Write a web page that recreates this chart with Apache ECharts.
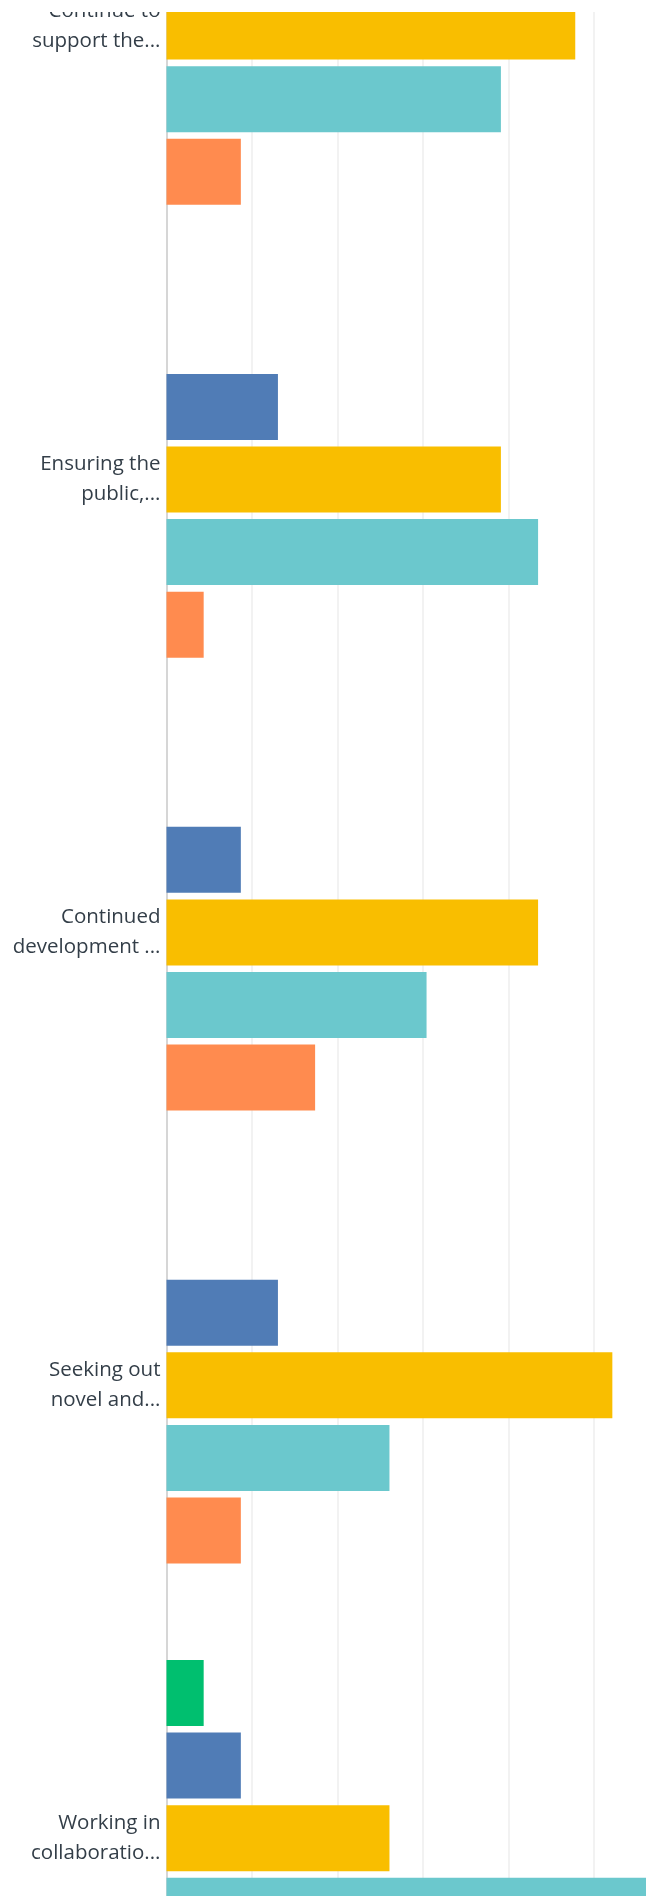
<!DOCTYPE html>
<html>
<head>
<meta charset="utf-8">
<script src="https://cdn.jsdelivr.net/npm/echarts@6/dist/echarts.min.js"></script>
<style>
  html, body { margin: 0; padding: 0; background: #ffffff; overflow: hidden; }
  #wrap { position: absolute; left: 0; top: 12px; width: 646px; height: 1884px; background: #ffffff; overflow: hidden; }
  #chart { position: absolute; left: 0; top: -260px; width: 1100px; height: 2600px; }
</style>
</head>
<body>
<div id="wrap"><div id="chart"></div></div>
<script>
// Categories (row labels as visible, truncated in the original)
var categories = [
  'Continue to\nsupport the...',
  'Ensuring the\npublic,...',
  'Continued\ndevelopment ...',
  'Seeking out\nnovel and...',
  'Working in\ncollaboratio...'
];
// Series values, percent of respondents per row
var seriesNames = ['Option 1', 'Option 2', 'Option 3', 'Option 4', 'Option 5'];
var greenValues  = [0,     0,     0,     0,     4.35];
var blueValues   = [4.35,  13.04, 8.70,  13.04, 8.70];
var yellowValues = [47.83, 39.13, 43.48, 52.17, 26.09];
var tealValues   = [39.13, 43.48, 30.43, 26.09, 56.52];
var orangeValues = [8.70,  4.35,  17.39, 8.70,  4.35];
var seriesColors = ['#00BF6F', '#507CB6', '#F9BE00', '#6BC8CD', '#FF8B4F'];
var allValues = [greenValues, blueValues, yellowValues, tealValues, orangeValues];

var chart = echarts.init(document.getElementById('chart'), null, { renderer: 'canvas' });

var series = allValues.map(function (vals, i) {
  return {
    name: seriesNames[i],
    type: 'bar',
    data: vals,
    barWidth: 66,
    barGap: '10%',
    itemStyle: { color: seriesColors[i] },
    animation: false
  };
});

chart.setOption({
  animation: false,
  backgroundColor: '#ffffff',
  grid: {
    left: 166.5,
    top: 48.15,
    width: 854.6,
    height: 2264.5,
    containLabel: false,
    outerBoundsMode: 'none'
  },
  xAxis: {
    type: 'value',
    min: 0,
    max: 100,
    interval: 10,
    axisLabel: { show: false },
    axisLine: { show: false },
    axisTick: { show: false },
    splitLine: { show: true, lineStyle: { color: '#efefef', width: 1.6 } }
  },
  yAxis: {
    type: 'category',
    inverse: true,
    data: categories,
    axisLine: { show: true, lineStyle: { color: '#d6d6d6', width: 2 } },
    axisTick: { show: false },
    axisLabel: {
      margin: 6,
      fontSize: 20.5,
      lineHeight: 30,
      padding: [6, 0, 0, 0],
      color: '#333e48',
      fontFamily: '"Open Sans", "DejaVu Sans", sans-serif',
      align: 'right'
    }
  },
  series: series
});
</script>
</body>
</html>
